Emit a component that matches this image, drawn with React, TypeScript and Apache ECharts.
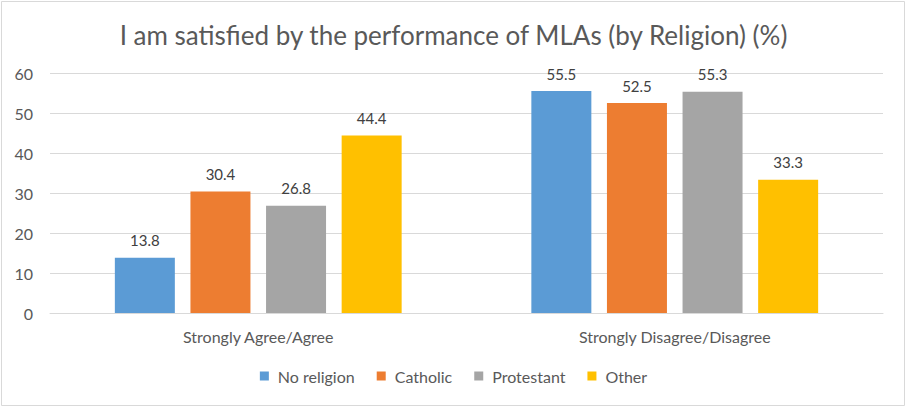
import React, { useEffect, useRef } from "react";
import * as echarts from "echarts";

const categories = ["Strongly Agree/Agree", "Strongly Disagree/Disagree"];
const seriesNames = ["No religion", "Catholic", "Protestant", "Other"];
const noReligion = [13.8, 55.5];
const catholic = [30.4, 52.5];
const protestant = [26.8, 55.3];
const other = [44.4, 33.3];
const colors = ["#5B9BD5", "#ED7D31", "#A5A5A5", "#FFC000"];
const titleText = "I am satisfied by the performance of MLAs (by Religion) (%)";

const FONT = "Lato, 'Liberation Sans', sans-serif";

export default function App() {
  const ref = useRef<HTMLDivElement>(null);
  useEffect(() => {
    document.body.style.margin = "0";
    const chart = echarts.init(ref.current!, null, { renderer: "svg" });
    const values = [noReligion, catholic, protestant, other];
    chart.setOption({
      animation: false,
      backgroundColor: "#ffffff",
      textStyle: { fontFamily: FONT },
      title: {
        text: titleText,
        left: "center",
        top: 17,
        textStyle: { fontFamily: FONT, fontSize: 26, fontWeight: "normal", color: "#595959" },
      },
      graphic: [
        {
          type: "rect",
          shape: { x: 1.5, y: 1.5, width: 903, height: 404 },
          style: { fill: "none", stroke: "#d9d9d9", lineWidth: 1 },
          silent: true,
          z: -1,
        },
      ],
      legend: {
        data: seriesNames,
        top: 363,
        left: "center",
        itemWidth: 9,
        itemHeight: 9,
        itemGap: 22,
        icon: "rect",
        textStyle: { fontFamily: FONT, fontSize: 16, color: "#595959", padding: [0, 0, 0, 4] },
      },
      grid: { left: 50, right: 24, top: 73, bottom: 95, containLabel: false },
      xAxis: {
        type: "category",
        data: categories,
        axisLine: { lineStyle: { color: "#d9d9d9", width: 1 } },
        axisTick: { show: false },
        axisLabel: { fontFamily: FONT, fontSize: 16, color: "#595959", margin: 15 },
      },
      yAxis: {
        type: "value",
        min: 0,
        max: 60,
        interval: 10,
        axisLine: { show: false },
        axisTick: { show: false },
        splitLine: { lineStyle: { color: "#d9d9d9", width: 1 } },
        axisLabel: { fontFamily: FONT, fontSize: 16, color: "#595959", margin: 17 },
      },
      series: seriesNames.map((name, i) => ({
        name,
        type: "bar",
        data: values[i],
        barWidth: 60,
        barGap: "26%",
        itemStyle: { color: colors[i] },
        label: {
          show: true,
          position: "top",
          distance: 10,
          fontFamily: FONT,
          fontSize: 15,
          color: "#404040",
          formatter: (p: any) => p.value.toFixed(1),
        },
      })),
    });
    return () => chart.dispose();
  }, []);
  return <div ref={ref} style={{ width: 907, height: 408 }} />;
}
